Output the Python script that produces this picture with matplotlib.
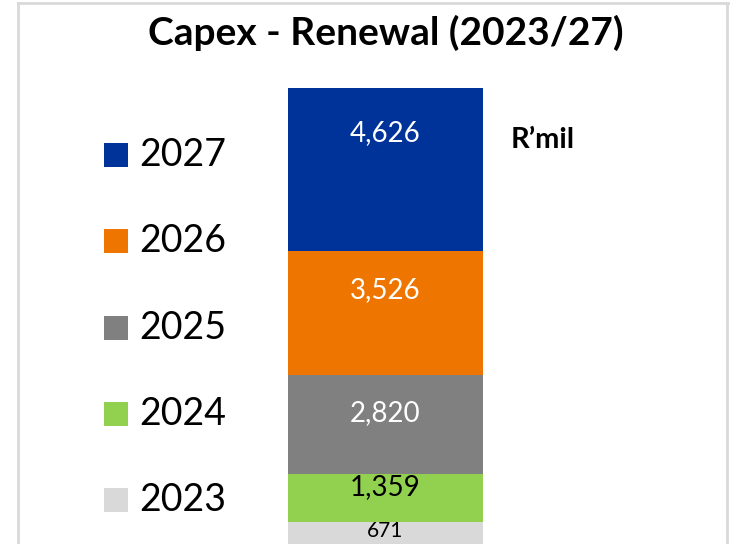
import matplotlib.pyplot as plt
from matplotlib.patches import Rectangle
from matplotlib.lines import Line2D

plt.rcParams['font.family'] = ['Lato', 'DejaVu Sans']

# Data
years = ['2023', '2024', '2025', '2026', '2027']
values = [671, 1359, 2820, 3526, 4626]
colors = ['#D9D9D9', '#92D050', '#808080', '#EE7600', '#003399']
label_colors = ['black', 'black', 'white', 'white', 'white']
label_sizes = [15, 20, 20, 20, 20]
label_offsets = [-9, -13, -38, -39, -45]  # px below the segment top

fig = plt.figure(figsize=(7.3, 5.44), dpi=100)

# bar axes: bar spans x 288..483 px, top of stack at y=88 px
ax = fig.add_axes([288 / 730, 0, 195 / 730, (544 - 88) / 544])
total = sum(values)
ax.set_xlim(-0.5, 0.5)
ax.set_ylim(57, total)
ax.axis('off')

bottom = 0
for i, v in enumerate(values):
    ax.bar(0, v, width=1.0, bottom=bottom, color=colors[i], zorder=2)
    ax.annotate(f'{v:,}', (0, bottom + v), xytext=(0, label_offsets[i] * 0.72),
                textcoords='offset points', ha='center', va='center',
                color=label_colors[i], fontsize=label_sizes[i], zorder=3)
    bottom += v

# soft shadow behind the bar
ax.bar(0, total, width=1.04, color='#000000', alpha=0.08, zorder=1)

# title and unit
fig.text(386 / 730, 1 - 33 / 544, 'Capex - Renewal (2023/27)', ha='center', va='center',
         fontsize=28, fontweight='bold')
fig.text(511 / 730, 1 - 140 / 544, 'R\u2019mil', ha='left', va='center',
         fontsize=21, fontweight='bold')

# legend, top to bottom 2027 .. 2023
for i, (yr, c) in enumerate(zip(years[::-1], colors[::-1])):
    yc = 155 + i * 86.3
    fig.patches.append(Rectangle((104 / 730, 1 - (yc + 12) / 544), 24 / 730, 24 / 544,
                                 transform=fig.transFigure, facecolor=c, edgecolor='none'))
    fig.text(139 / 730, 1 - yc / 544, yr, ha='left', va='center', fontsize=27)

# chart frame
fc = '#D9D9D9'
fig.lines.append(Line2D([18 / 730, 1], [1 - 3 / 544] * 2, transform=fig.transFigure, color=fc, lw=2))
fig.lines.append(Line2D([18 / 730] * 2, [0, 1 - 3 / 544], transform=fig.transFigure, color=fc, lw=2))
fig.lines.append(Line2D([727 / 730] * 2, [0, 1 - 3 / 544], transform=fig.transFigure, color=fc, lw=2))

fig.savefig('out.png', dpi=100, facecolor='white')
